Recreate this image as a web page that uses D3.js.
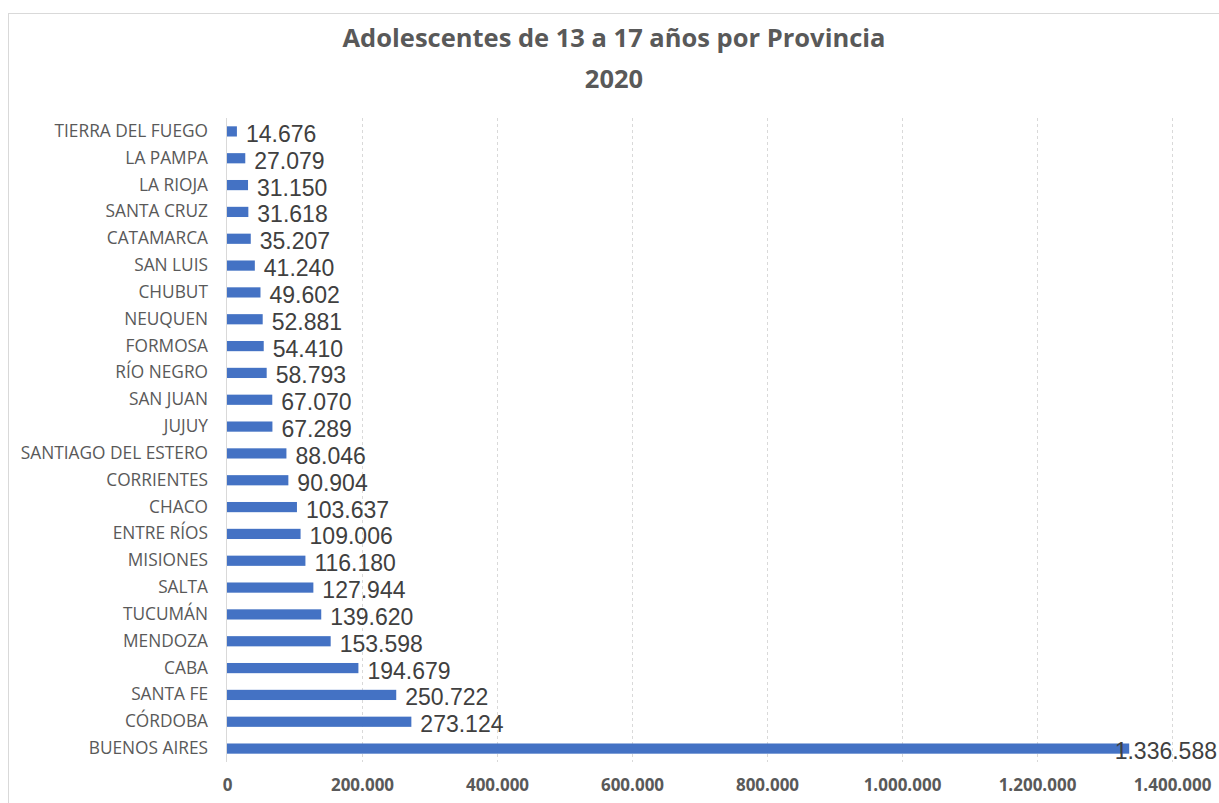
<!DOCTYPE html>
<head>
  <meta charset="utf-8">
  <script src="https://d3js.org/d3.v7.min.js"></script>
  <style>
    body{ margin: 0; background: #ffffff; }
    text{ font-family: "Open Sans", sans-serif; fill: #595959; }
    text.title{ font-size: 25.5px; font-weight: 700; }
    .yAxis .tick text{ font-size: 17.3px; }
    .xAxis .tick text{ font-size: 17px; font-weight: 700; }
    text.valueLabel{ font-family: "Liberation Sans", sans-serif; font-size: 23px; fill: #404040; }
    .grid line{ stroke: #d9d9d9; stroke-dasharray: 3,3; shape-rendering: crispEdges; }
    path.domain{ display: none; }
    .tick line{ display: none; }
  </style>
</head>
<body>
<script>
  // provinces, listed top to bottom as drawn
  var provinces = ["TIERRA DEL FUEGO", "LA PAMPA", "LA RIOJA ", "SANTA CRUZ", "CATAMARCA ",
    "SAN LUIS", "CHUBUT", "NEUQUEN", "FORMOSA", "RÍO NEGRO", "SAN JUAN", "JUJUY",
    "SANTIAGO DEL ESTERO", "CORRIENTES", "CHACO", "ENTRE RÍOS", "MISIONES", "SALTA",
    "TUCUMÁN", "MENDOZA", "CABA", "SANTA FE", "CÓRDOBA", "BUENOS AIRES"];
  var adolescents = [14676, 27079, 31150, 31618, 35207, 41240, 49602, 52881, 54410, 58793,
    67070, 67289, 88046, 90904, 103637, 109006, 116180, 127944, 139620, 153598,
    194679, 250722, 273124, 1336588];
  var xTicks = [0, 200000, 400000, 600000, 800000, 1000000, 1200000, 1400000];
  var titleLines = ["Adolescentes de 13 a 17 años por Provincia", "2020"];

  var width = 1219, height = 803;
  var margin = {top: 118, right: 47, bottom: 41, left: 227};

  var svg = d3.select("body").append("svg")
    .attr("width", width)
    .attr("height", height);

  // chart frame
  svg.append("rect")
    .attr("x", 8.5).attr("y", 13.5)
    .attr("width", width).attr("height", height)
    .attr("fill", "none").attr("stroke", "#d9d9d9");

  var fmt = d3.formatLocale({decimal: ",", thousands: ".", grouping: [3], currency: ["$", ""]}).format(",.0f");

  var x = d3.scaleLinear()
    .domain([0, 1400000])
    .range([margin.left, width - margin.right]);

  var y = d3.scaleBand()
    .domain(provinces)
    .range([margin.top, height - margin.bottom])
    .paddingInner(0.62)
    .paddingOuter(0.31);

  // gridlines
  svg.append("g").attr("class", "grid")
    .selectAll("line")
    .data(xTicks.slice(1))
    .join("line")
    .attr("x1", d => Math.round(x(d)) + 0.5)
    .attr("x2", d => Math.round(x(d)) + 0.5)
    .attr("y1", margin.top)
    .attr("y2", height - margin.bottom);

  // axis line at zero
  svg.append("line")
    .attr("x1", x(0) - 0.5).attr("x2", x(0) - 0.5)
    .attr("y1", margin.top).attr("y2", height - margin.bottom)
    .attr("stroke", "#d9d9d9");

  svg.selectAll("rect.bar")
    .data(provinces)
    .join("rect")
    .attr("class", "bar")
    .attr("x", x(0))
    .attr("y", d => y(d))
    .attr("width", (d, i) => x(adolescents[i]) - x(0))
    .attr("height", y.bandwidth())
    .attr("fill", "#4472c4");

  // value labels, the last one pulled back inside the frame like Excel does
  svg.selectAll("text.valueLabel")
    .data(provinces)
    .join("text")
    .attr("class", "valueLabel")
    .attr("y", d => y(d) + y.bandwidth() / 2 + 10.5)
    .text((d, i) => fmt(adolescents[i]))
    .attr("x", function(d, i) {
      var len = this.getComputedTextLength();
      return Math.min(x(adolescents[i]) + 9, width - 2 - len);
    });

  svg.append("g")
    .attr("class", "yAxis")
    .attr("transform", `translate(${margin.left - 19},0)`)
    .call(d3.axisLeft(y).tickSize(0).tickPadding(0));

  svg.append("g")
    .attr("class", "xAxis")
    .attr("transform", `translate(0,${height - margin.bottom})`)
    .call(d3.axisBottom(x).tickValues(xTicks).tickSize(0).tickPadding(17).tickFormat(fmt));

  svg.selectAll("text.title")
    .data(titleLines)
    .join("text")
    .attr("class", "title")
    .attr("x", 614)
    .attr("y", (d, i) => 47 + i * 41)
    .attr("text-anchor", "middle")
    .text(d => d);
</script>
</body>
